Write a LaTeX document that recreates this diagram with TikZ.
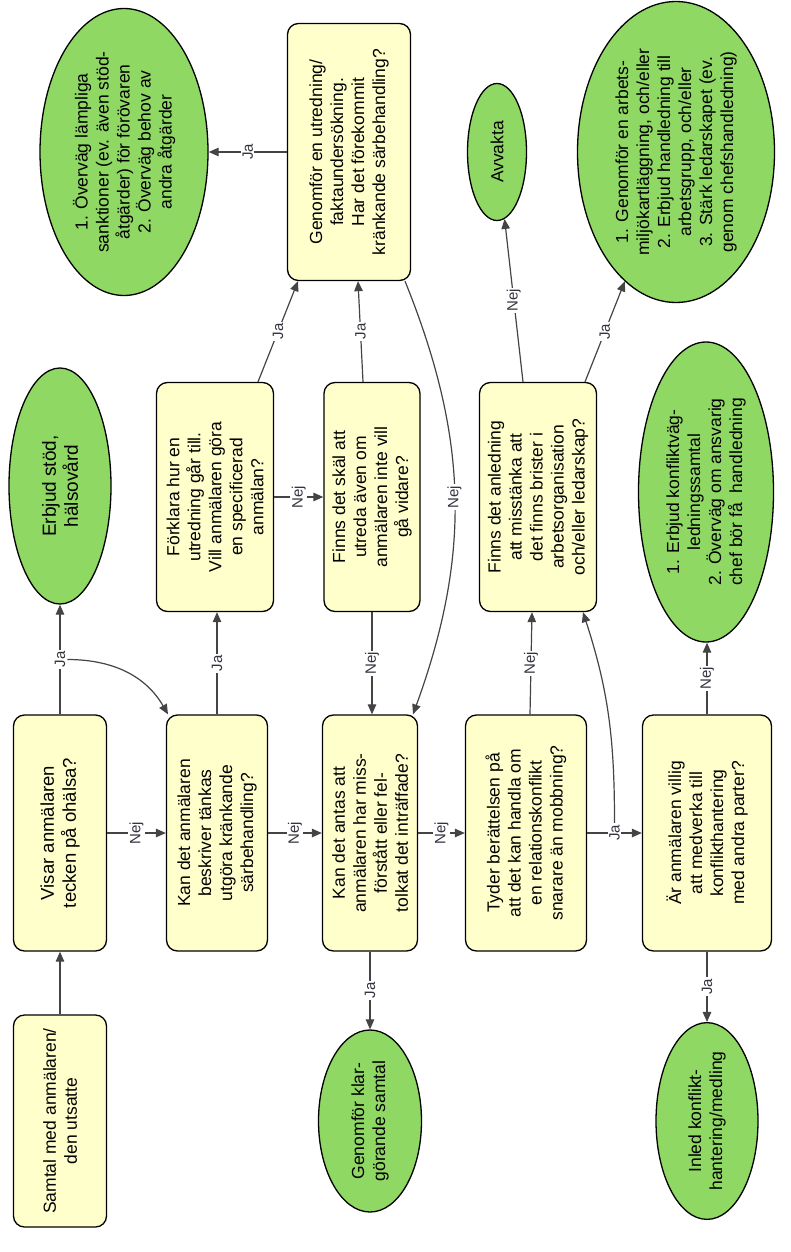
\documentclass[tikz,border=0pt]{standalone}
\usepackage{fontspec}
\setmainfont{Liberation Sans}
\usetikzlibrary{shapes,arrows.meta,calc,positioning}

\definecolor{boxyellow}{RGB}{255,255,204}
\definecolor{termgreen}{RGB}{143,216,100}
\definecolor{linegray}{RGB}{68,68,68}
\definecolor{labelgray}{RGB}{52,52,64}

\tikzset{
  box/.style={rectangle, rounded corners=11pt, draw=black, line width=1.3pt, fill=boxyellow, rotate=90, align=center, inner sep=2pt, font=\fontsize{17.5}{21}\selectfont},
  term/.style={ellipse, draw=black, line width=1.3pt, fill=termgreen, rotate=90, align=center, inner sep=0pt, font=\fontsize{17.5}{21}\selectfont},
  lbl/.style={rotate=90, fill=white, inner sep=1.5pt, text=labelgray, font=\fontsize{15}{15}\selectfont},
  conn/.style={draw=linegray, line width=1.2pt, -{Triangle[length=10pt,width=8.5pt]}}
}

\begin{document}
\begin{tikzpicture}[x=1pt, y=-1pt]
  \useasboundingbox (0,0) rectangle (790,1252);

  \node[box, minimum width=212pt, minimum height=93pt] (samtal) at (60,1121) {Samtal med anmälaren/\\den utsatte};
  \node[box, minimum width=236pt, minimum height=93pt, font=\fontsize{18.5}{22}\selectfont] (visar) at (60,833) {Visar anmälaren\\tecken på ohälsa?};
  \node[box, minimum width=236pt, minimum height=101pt] (kan) at (217,833) {Kan det anmälaren\\beskriver tänkas\\utgöra kränkande\\särbehandling?};
  \node[box, minimum width=229pt, minimum height=117pt] (forklara) at (215,497) {Förklara hur en\\utredning går till.\\Vill anmälaren göra\\en specificerad\\anmälan?};
  \node[box, minimum width=229pt, minimum height=96pt] (skal) at (372,497) {Finns det skäl att\\utreda även om\\anmälaren inte vill\\gå vidare?};
  \node[box, minimum width=257pt, minimum height=123pt] (utredning) at (349,152) {Genomför en utredning/\\faktaundersökning.\\Har det förekommit\\kränkande särbehandling?};
  \node[box, minimum width=236pt, minimum height=95pt] (antas) at (370,833) {Kan det antas att\\anmälaren har miss-\\förstått eller fel-\\tolkat det inträffade?};
  \node[box, minimum width=236pt, minimum height=121pt] (tyder) at (526,833) {Tyder berättelsen på\\att det kan handla om\\en relationskonflikt\\snarare än mobbning?};
  \node[box, minimum width=229pt, minimum height=117pt] (anledning) at (538,497) {Finns det anledning\\att misstänka att\\det finns brister i\\arbetsorganisation\\och/eller ledarskap?};
  \node[box, minimum width=236pt, minimum height=129pt] (villig) at (707,833) {Är anmälaren villig\\att medverka till\\konflikthantering\\med andra parter?};

  \node[term, minimum width=236pt, minimum height=102pt, font=\fontsize{19}{22}\selectfont] (stod) at (60,486) {Erbjud stöd,\\hälsovård};
  \node[term, minimum width=287pt, minimum height=168pt] (atgarder) at (124,152) {1. Överväg lämpliga\\sanktioner (ev. även stöd-\\åtgärder) för förövaren\\2. Överväg behov av\\andra åtgärder};
  \node[term, minimum width=182pt, minimum height=103pt] (klar) at (370,1121) {Genomför klar-\\görande samtal};
  \node[term, minimum width=137pt, minimum height=59pt] (avvakta) at (497,152) {Avvakta};
  \node[term, minimum width=300pt, minimum height=135pt] (konfliktvag) at (706,492) {1. Erbjud konfliktväg-\\ledningssamtal\\2. Överväg om ansvarig\\chef bör få\ \ handledning};
  \node[term, minimum width=301pt, minimum height=197pt] (arbetsmiljo) at (676,152) {1. Genomför en arbets-\\miljökartläggning, och/eller\\2. Erbjud handledning till\\arbetsgrupp, och/eller\\3. Stärk ledarskapet (ev.\\genom chefshandledning)};
  \node[term, minimum width=192pt, minimum height=102pt] (inled) at (707,1121) {Inled konflikt-\\hantering/medling};

  \draw[conn] (samtal) -- (visar);
  \draw[conn] (visar) -- node[lbl] (ja1) {Ja} (stod);
  \draw[conn] (ja1.south) to[out=0, in=120] ([xshift=-49pt]kan.east);
  \draw[conn] (visar) -- node[lbl] {Nej} (kan);
  \draw[conn] (kan) -- node[lbl] {Ja} (kan |- forklara.west);
  \draw[conn] (kan) -- node[lbl] {Nej} (antas);
  \draw[conn] (forklara) -- node[lbl] {Nej} (skal);
  \draw[conn] ([xshift=43pt]forklara.east) -- node[lbl] {Ja} ([xshift=-51pt]utredning.west);
  \draw[conn] ([xshift=-9pt]skal.east) -- node[lbl] {Ja} ([xshift=9pt]utredning.west);
  \draw[conn] (skal) -- node[lbl] {Nej} (skal |- antas.east);
  \draw[conn] (utredning) -- node[lbl] {Ja} (atgarder);
  \draw[conn] ([xshift=56pt]utredning.west) to[out=-68, in=70] node[lbl] {Nej} ([xshift=43pt]antas.east);
  \draw[conn] (antas) -- node[lbl] {Nej} (tyder);
  \draw[conn] (antas) -- node[lbl] {Ja} (klar);
  \draw[conn] ([xshift=4pt]tyder.east) -- node[lbl] {Nej} ([xshift=-6pt]anledning.west);
  \draw[conn] (tyder) -- node[lbl] (ja6) {Ja} (villig);
  \draw[conn] (ja6.east) to[out=90, in=-72] ([xshift=45pt]anledning.west);
  \draw[conn] ([xshift=-15pt]anledning.east) -- node[lbl] {Nej} (avvakta);
  \draw[conn] ([xshift=47pt]anledning.east) -- node[lbl] {Ja} (arbetsmiljo);
  \draw[conn] (villig) -- node[lbl] {Nej} (villig |- konfliktvag.west);
  \draw[conn] (villig) -- node[lbl] {Ja} (inled);

\end{tikzpicture}
\end{document}
